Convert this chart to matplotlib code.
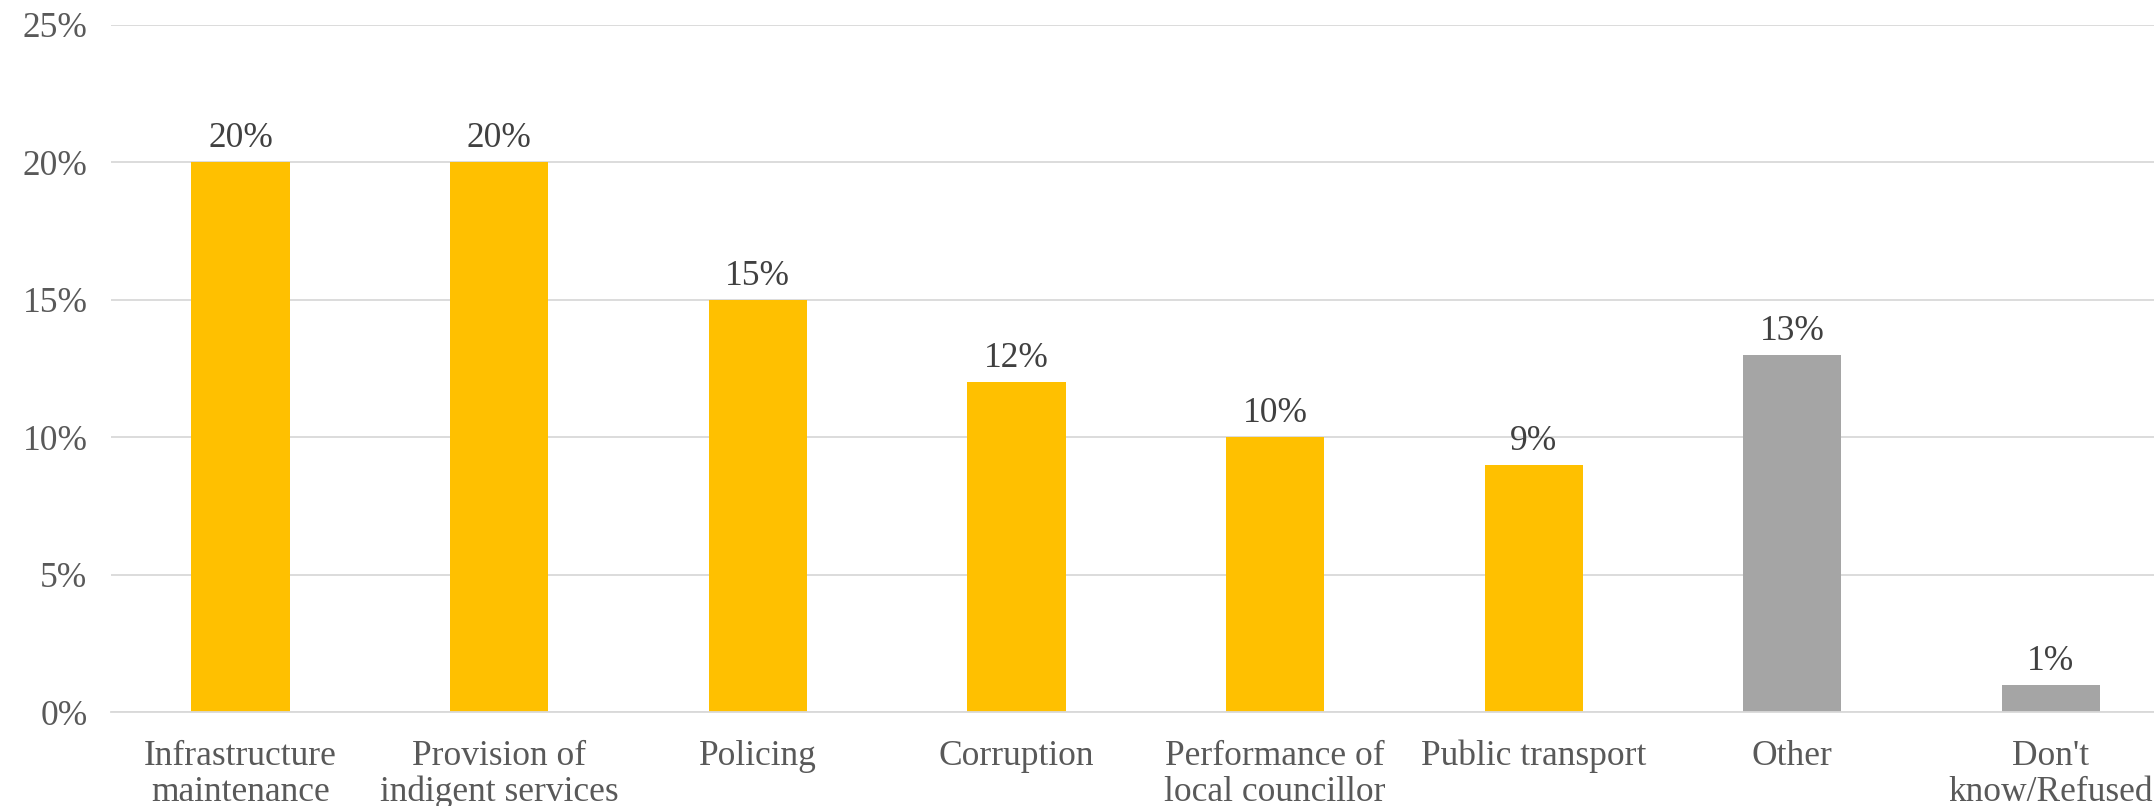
import matplotlib.pyplot as plt
import numpy as np
from matplotlib.ticker import PercentFormatter

# Share of respondents per main issue
CATEGORIES = [
    "Infrastructure\nmaintenance",
    "Provision of\nindigent services",
    "Policing",
    "Corruption",
    "Performance of\nlocal councillor",
    "Public transport",
    "Other",
    "Don't\nknow/Refused",
]
VALUES = [0.20, 0.20, 0.15, 0.12, 0.10, 0.09, 0.13, 0.01]
COLORS = ["#FFC000"] * 6 + ["#A5A5A5"] * 2

FONT = "Liberation Serif"
FS = 25.5


def main() -> None:
    fig = plt.figure(figsize=(21.54, 8.06), dpi=100)
    ax = fig.add_axes([0.0516, 0.1166, 0.9606, 0.853])

    x = np.arange(len(CATEGORIES))
    bars = ax.bar(x, VALUES, width=0.38, color=COLORS, zorder=3)

    for b, v in zip(bars, VALUES):
        ax.annotate(f"{v * 100:.0f}%", (b.get_x() + b.get_width() / 2, v),
                    xytext=(0, 5), textcoords="offset points",
                    ha="center", va="bottom", fontsize=FS,
                    family=FONT, color="#404040")

    ax.set_xlim(-0.5, len(CATEGORIES) - 0.5)
    ax.set_ylim(0, 0.25)
    ax.set_yticks(np.arange(0, 0.26, 0.05))
    ax.yaxis.set_major_formatter(PercentFormatter(1.0, decimals=0))
    ax.set_xticks(x)
    ax.set_xticklabels(CATEGORIES, linespacing=1.12)

    for lab in ax.get_xticklabels() + ax.get_yticklabels():
        lab.set_family(FONT)
        lab.set_fontsize(FS)
        lab.set_color("#595959")

    ax.tick_params(axis="both", length=0)
    ax.tick_params(axis="y", pad=17)
    ax.tick_params(axis="x", pad=20)
    ax.grid(axis="y", color="#D9D9D9", linewidth=1.3, zorder=0)
    for side in ["top", "right", "left"]:
        ax.spines[side].set_visible(False)
    ax.spines["bottom"].set_color("#D9D9D9")
    ax.spines["bottom"].set_linewidth(1.3)
    ax.spines["bottom"].set_zorder(4)

    fig.savefig("out.png", dpi=100)
    plt.close(fig)


if __name__ == "__main__":
    main()
